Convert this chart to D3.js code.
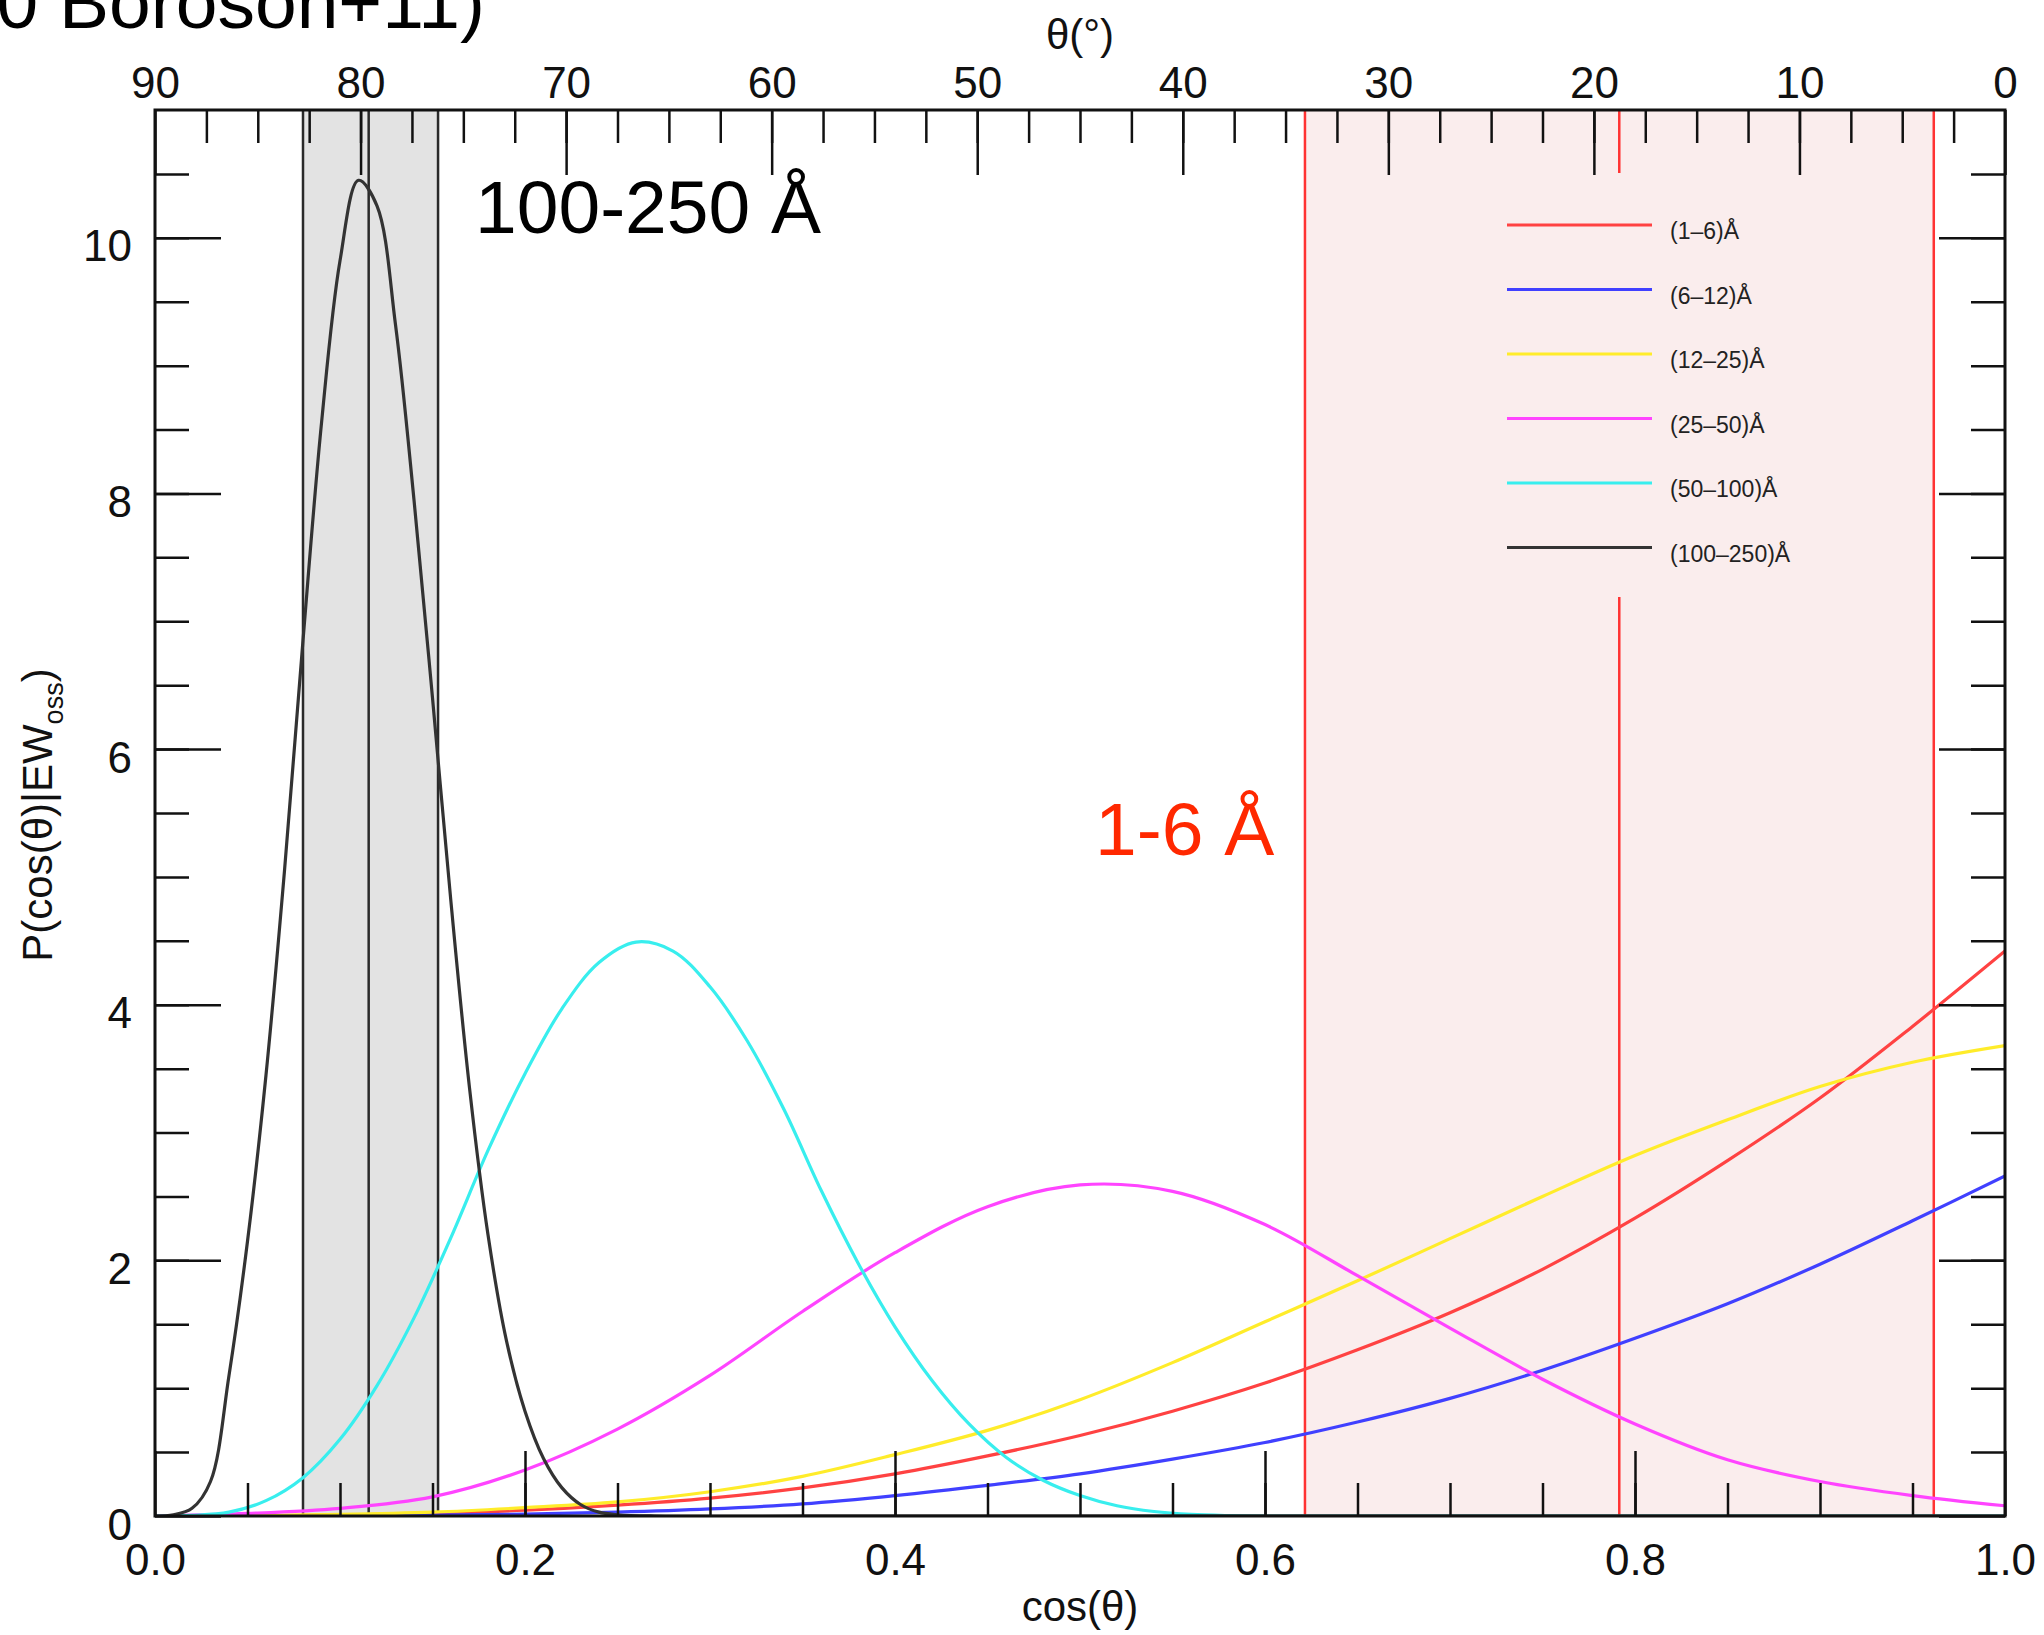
<!DOCTYPE html>
<html>
<head>
<meta charset="utf-8">
<script src="https://cdn.jsdelivr.net/npm/d3@7"></script>
<style>
  html, body { margin: 0; padding: 0; background: #fff; }
  svg { display: block; }
  text { font-family: "Liberation Sans", Arial, Helvetica, sans-serif; }
</style>
</head>
<body>
<div id="chart"></div>
<script>
// ---- data ----
const cosGrid = [0, 0.05, 0.1, 0.15, 0.2, 0.25, 0.3, 0.35, 0.4, 0.45, 0.5, 0.55, 0.6, 0.65, 0.7, 0.75, 0.8, 0.85, 0.9, 0.95, 1.0];
const pEW1_6   = [0, 0.002, 0.008, 0.02, 0.045, 0.085, 0.14, 0.22, 0.33, 0.47, 0.63, 0.82, 1.04, 1.3, 1.59, 1.93, 2.33, 2.78, 3.27, 3.83, 4.42];
const pEW6_12  = [0, 0.001, 0.003, 0.007, 0.015, 0.03, 0.055, 0.095, 0.16, 0.24, 0.33, 0.445, 0.575, 0.735, 0.92, 1.14, 1.39, 1.66, 1.97, 2.31, 2.66];
const pEW12_25 = [0, 0.003, 0.012, 0.03, 0.065, 0.11, 0.19, 0.31, 0.48, 0.67, 0.91, 1.2, 1.52, 1.84, 2.17, 2.5, 2.82, 3.1, 3.36, 3.55, 3.68];
const pEW25_50 = [0, 0.02, 0.06, 0.15, 0.36, 0.68, 1.1, 1.6, 2.06, 2.42, 2.59, 2.54, 2.28, 1.88, 1.47, 1.07, 0.72, 0.44, 0.27, 0.16, 0.08];

const cosGrid50_100 = [0, 0.02, 0.04, 0.06, 0.08, 0.1, 0.12, 0.14, 0.16, 0.18, 0.2, 0.22, 0.24, 0.26, 0.28, 0.3, 0.32, 0.34, 0.36, 0.38, 0.4, 0.42, 0.44, 0.46, 0.48, 0.5, 0.52, 0.54, 0.56, 0.58, 0.6, 0.8, 1.0];
const pEW50_100 = [0, 0.005, 0.03, 0.12, 0.3, 0.6, 1.02, 1.55, 2.18, 2.86, 3.46, 3.97, 4.33, 4.49, 4.42, 4.14, 3.72, 3.18, 2.55, 1.98, 1.48, 1.06, 0.72, 0.46, 0.28, 0.16, 0.08, 0.035, 0.012, 0.003, 0, 0, 0];

const cosGrid100_250 = [0, 0.01, 0.02, 0.03, 0.04, 0.05, 0.06, 0.07, 0.08, 0.09, 0.1, 0.11, 0.12, 0.13, 0.14, 0.15, 0.16, 0.17, 0.18, 0.19, 0.2, 0.21, 0.22, 0.23, 0.24, 0.25, 0.27, 0.4, 0.6, 0.8, 1.0];
const pEW100_250 = [0, 0.01, 0.06, 0.27, 1.1, 2.15, 3.45, 5.05, 6.85, 8.55, 9.82, 10.45, 10.25, 9.32, 7.95, 6.4, 4.8, 3.35, 2.2, 1.37, 0.82, 0.45, 0.22, 0.09, 0.03, 0.01, 0, 0, 0, 0, 0];

const seriesLabels = ["(1–6)Å", "(6–12)Å", "(12–25)Å", "(25–50)Å", "(50–100)Å", "(100–250)Å"];
const seriesColors = ["#ff4242", "#4040ff", "#ffec2a", "#ff44ff", "#38eeee", "#333333"];

// cos(theta) ranges marked on the plot
const blackBand = [0.08, 0.153];
const blackMedian = 0.1155;
const redBand = [0.6216, 0.9615];
const redMedian = 0.7915;

const xMajorTicks = [0, 0.2, 0.4, 0.6, 0.8, 1.0];
const yMajorTicks = [0, 2, 4, 6, 8, 10];
const thetaMajorTicks = [90, 80, 70, 60, 50, 40, 30, 20, 10, 0];

// ---- layout ----
const W = 2044, H = 1635;
const plotLeft = 155, plotRight = 2005, plotTop = 110, plotBottom = 1516;

const svg = d3.select("#chart").append("svg")
    .attr("width", W)
    .attr("height", H);

svg.append("defs").append("clipPath").attr("id", "plotclip")
    .append("rect")
    .attr("x", plotLeft).attr("y", plotTop)
    .attr("width", plotRight - plotLeft).attr("height", plotBottom - plotTop);

const x = d3.scaleLinear().domain([0, 1]).range([plotLeft, plotRight]);
const y = d3.scaleLinear().domain([0, 11]).range([plotBottom, plotTop]);
const theta = d3.scaleLinear().domain([90, 0]).range([plotLeft, plotRight]);

const series = [
    { xs: cosGrid, ys: pEW1_6 },
    { xs: cosGrid, ys: pEW6_12 },
    { xs: cosGrid, ys: pEW12_25 },
    { xs: cosGrid, ys: pEW25_50 },
    { xs: cosGrid50_100, ys: pEW50_100 },
    { xs: cosGrid100_250, ys: pEW100_250 }
].map((s, i) => ({
    label: seriesLabels[i],
    color: seriesColors[i],
    points: s.xs.map((c, j) => [c, s.ys[j]])
}));

// shaded ranges
svg.append("rect")
    .attr("x", x(redBand[0])).attr("y", plotTop)
    .attr("width", x(redBand[1]) - x(redBand[0])).attr("height", plotBottom - plotTop)
    .attr("fill", "#faeded");

svg.append("rect")
    .attr("x", x(blackBand[0])).attr("y", plotTop)
    .attr("width", x(blackBand[1]) - x(blackBand[0])).attr("height", plotBottom - plotTop)
    .attr("fill", "#e3e3e3");

// red vertical lines
svg.selectAll(".redline")
    .data([redBand[0], redMedian, redBand[1]])
    .enter().append("line")
    .attr("x1", d => x(d)).attr("x2", d => x(d))
    .attr("y1", plotTop).attr("y2", plotBottom)
    .attr("stroke", "#ff3333").attr("stroke-width", 2.5);

// legend box (same tint as the band, hides the middle red line)
const legendX = 1490, legendY = 173;
svg.append("rect")
    .attr("x", legendX).attr("y", legendY)
    .attr("width", 350).attr("height", 424)
    .attr("fill", "#faeded");

// black band lines
svg.selectAll(".blackline")
    .data([blackBand[0], blackMedian, blackBand[1]])
    .enter().append("line")
    .attr("x1", d => x(d)).attr("x2", d => x(d))
    .attr("y1", plotTop).attr("y2", plotBottom)
    .attr("stroke", "#2a2a2a").attr("stroke-width", 2.5);

// curves
const line = d3.line()
    .x(d => x(d[0]))
    .y(d => y(d[1]))
    .curve(d3.curveCatmullRom.alpha(0.5));

svg.append("g").attr("clip-path", "url(#plotclip)")
    .selectAll(".curve")
    .data(series)
    .enter().append("path")
    .attr("class", "curve")
    .attr("d", d => line(d.points))
    .attr("fill", "none")
    .attr("stroke", d => d.color)
    .attr("stroke-width", 3.2);

// ---- axes ----
function styleAxis(g) {
    g.select(".domain").remove();
    g.selectAll(".tick line").attr("stroke", "#111").attr("stroke-width", 2.5);
    g.attr("font-family", null).attr("font-size", 44);
    g.selectAll("text").attr("fill", "#111");
}

// minor ticks
svg.append("g").attr("transform", `translate(0,${plotBottom})`)
    .call(d3.axisBottom(x).tickValues(d3.range(0.05, 1, 0.05)).tickSize(-33).tickFormat(""))
    .call(styleAxis);
svg.append("g").attr("transform", `translate(${plotLeft},0)`)
    .call(d3.axisLeft(y).tickValues(d3.range(0.5, 10.6, 0.5)).tickSize(-34).tickFormat(""))
    .call(styleAxis);
svg.append("g").attr("transform", `translate(${plotRight},0)`)
    .call(d3.axisRight(y).tickValues(d3.range(0.5, 10.6, 0.5)).tickSize(-34).tickFormat(""))
    .call(styleAxis);
svg.append("g").attr("transform", `translate(0,${plotTop})`)
    .call(d3.axisTop(theta).tickValues(d3.range(2.5, 90, 2.5)).tickSize(-33).tickFormat(""))
    .call(styleAxis);

// major ticks + labels
svg.append("g").attr("transform", `translate(0,${plotBottom})`)
    .call(d3.axisBottom(x).tickValues(xMajorTicks).tickSize(-65).tickFormat(d3.format(".1f")))
    .call(styleAxis)
    .selectAll("text").attr("y", 59).attr("dy", null);

svg.append("g").attr("transform", `translate(${plotLeft},0)`)
    .call(d3.axisLeft(y).tickValues(yMajorTicks).tickSize(-66).tickFormat(d3.format("d")))
    .call(styleAxis)
    .selectAll("text").attr("x", -23).attr("y", 23).attr("dy", null);

svg.append("g").attr("transform", `translate(${plotRight},0)`)
    .call(d3.axisRight(y).tickValues(yMajorTicks).tickSize(-66).tickFormat(""))
    .call(styleAxis);

svg.append("g").attr("transform", `translate(0,${plotTop})`)
    .call(d3.axisTop(theta).tickValues(thetaMajorTicks).tickSize(-65).tickFormat(d3.format("d")))
    .call(styleAxis)
    .selectAll("text").attr("y", -12).attr("dy", null);

// frame
svg.append("rect")
    .attr("x", plotLeft).attr("y", plotTop)
    .attr("width", plotRight - plotLeft).attr("height", plotBottom - plotTop)
    .attr("fill", "none").attr("stroke", "#111").attr("stroke-width", 3);

// axis titles
svg.append("text")
    .attr("x", (plotLeft + plotRight) / 2).attr("y", 1621)
    .attr("text-anchor", "middle").attr("font-size", 42).attr("fill", "#111")
    .text("cos(θ)");

svg.append("text")
    .attr("x", (plotLeft + plotRight) / 2).attr("y", 49)
    .attr("text-anchor", "middle").attr("font-size", 42).attr("fill", "#111")
    .text("θ(°)");

const yTitle = svg.append("text")
    .attr("transform", "translate(52,815) rotate(-90)")
    .attr("text-anchor", "middle").attr("font-size", 42).attr("fill", "#111");
yTitle.append("tspan").text("P(cos(θ)|EW");
yTitle.append("tspan").attr("font-size", 27).attr("dy", 11).text("oss");
yTitle.append("tspan").attr("dy", -11).text(")");

// legend
const legend = svg.append("g");
series.forEach((s, i) => {
    const ly = 225 + i * 64.5;
    legend.append("line")
        .attr("x1", 1507).attr("x2", 1652)
        .attr("y1", ly).attr("y2", ly)
        .attr("stroke", s.color).attr("stroke-width", 3);
    legend.append("text")
        .attr("x", 1670).attr("y", ly + 14)
        .attr("font-size", 23).attr("fill", "#222")
        .text(s.label);
});

// annotations
svg.append("text")
    .attr("x", 475).attr("y", 233)
    .attr("font-size", 75).attr("fill", "#000")
    .text("100-250 Å");

svg.append("text")
    .attr("x", 1095).attr("y", 855)
    .attr("font-size", 75).attr("fill", "#ff2800")
    .text("1-6 Å");

// slide caption, cut by the top edge as in the original
svg.append("text")
    .attr("x", 485).attr("y", 28)
    .attr("text-anchor", "end")
    .attr("font-size", 75).attr("fill", "#000")
    .text("0 Boroson+11)");
</script>
</body>
</html>
